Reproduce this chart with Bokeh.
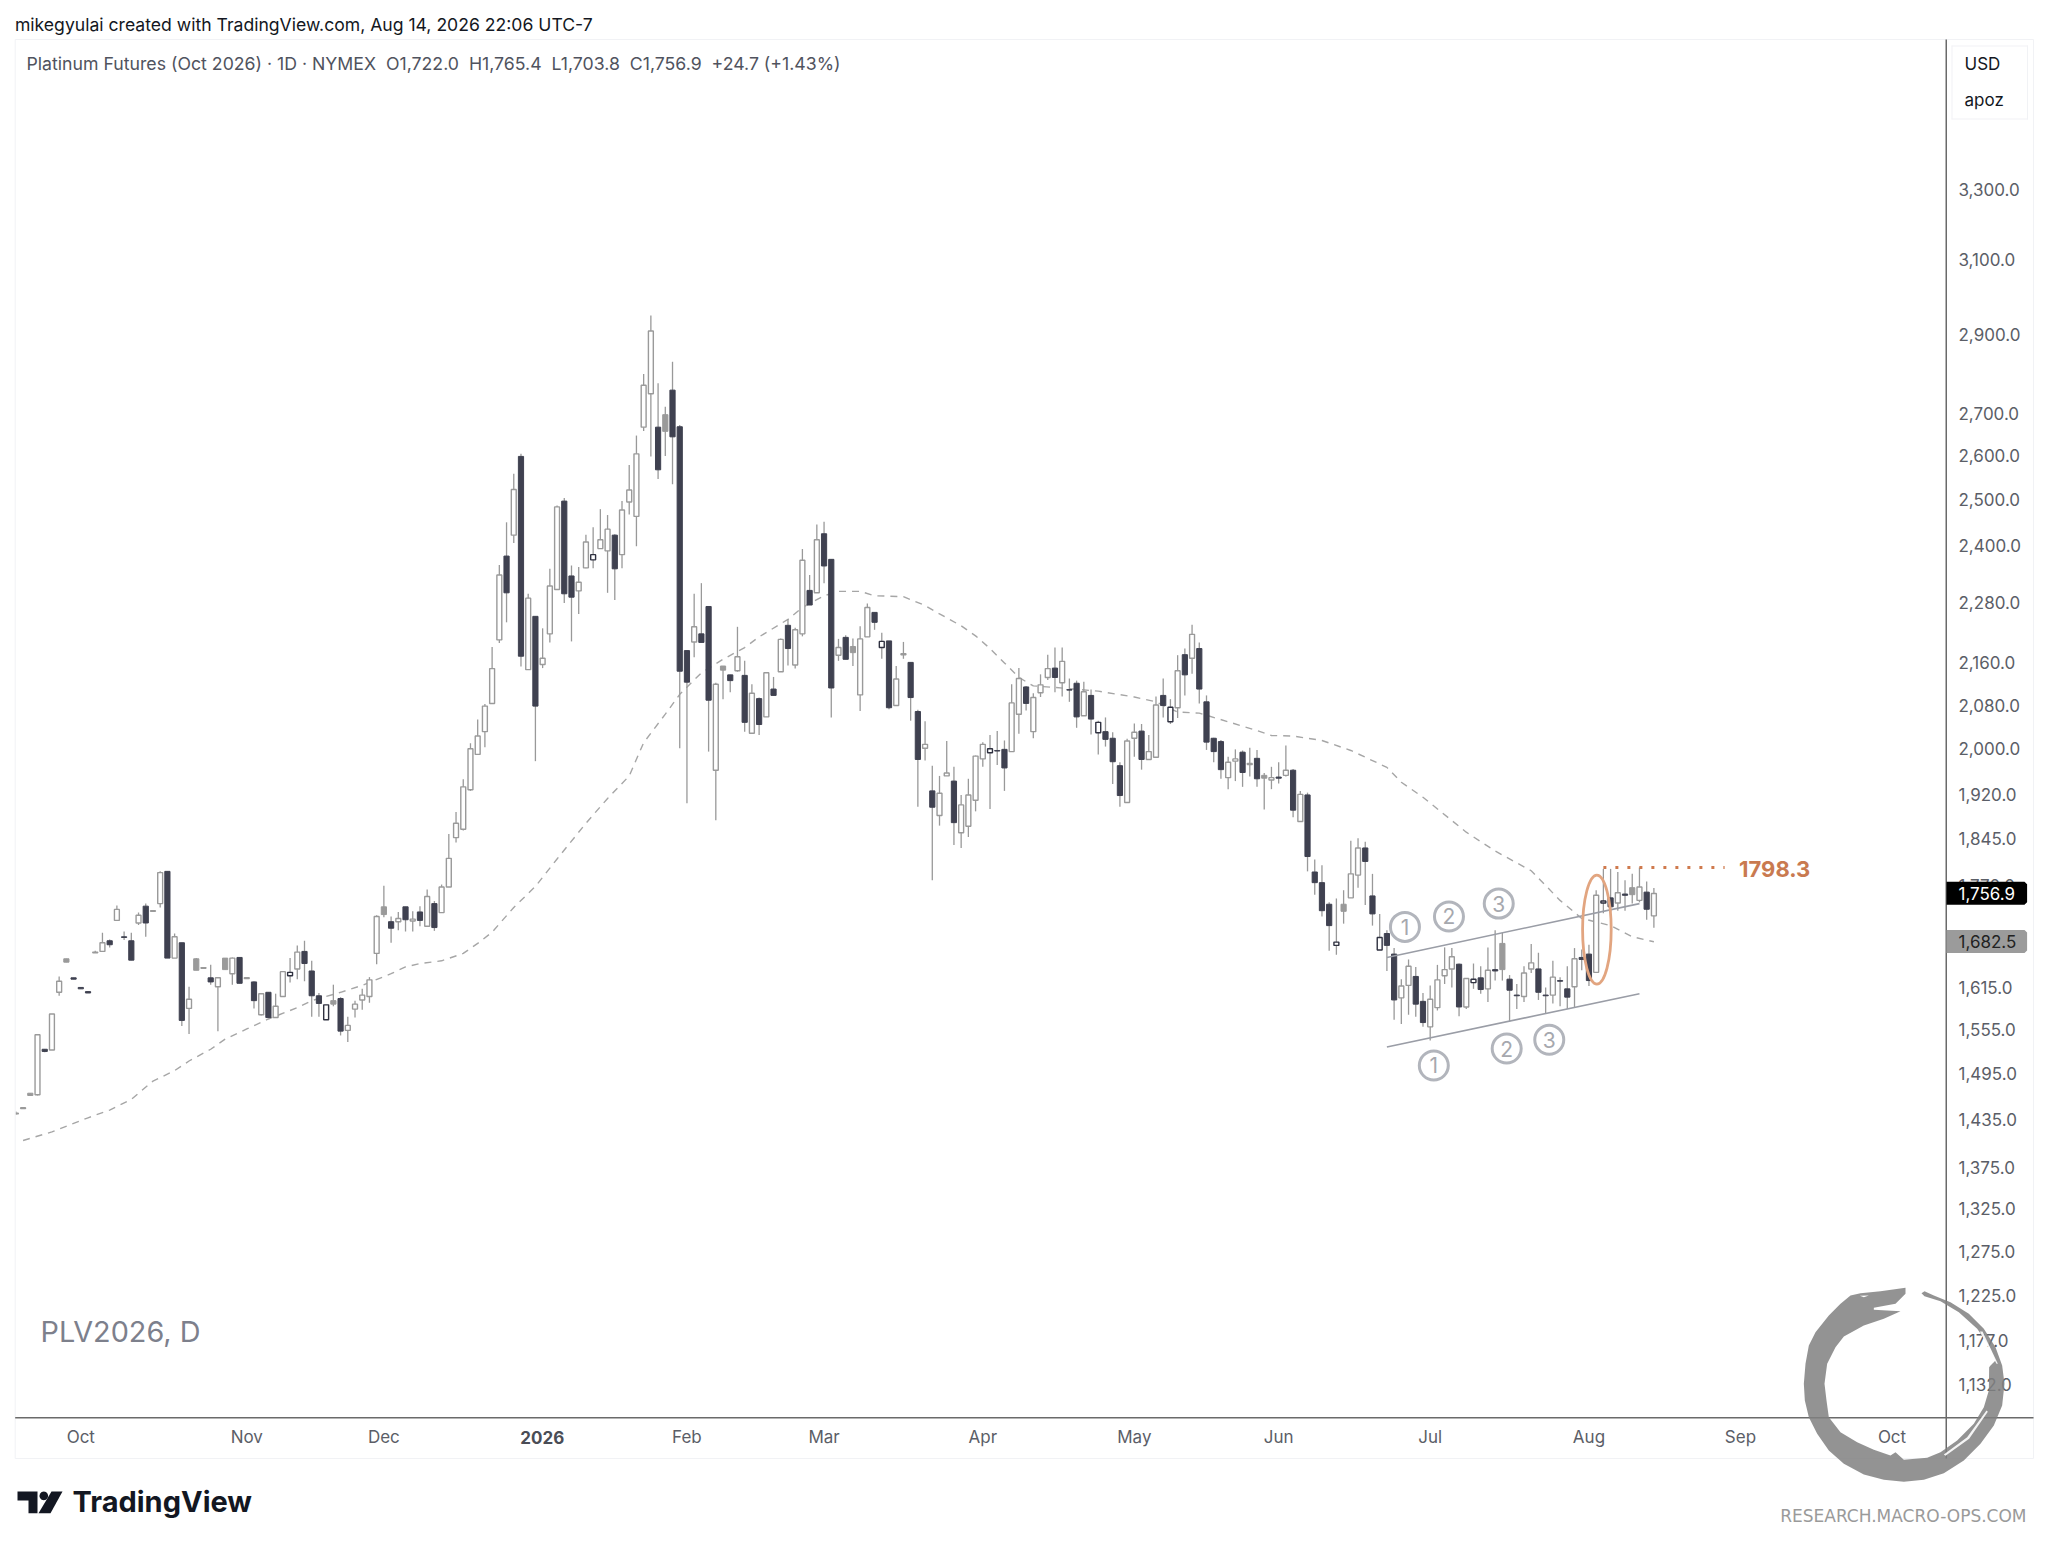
import math
import numpy as np
from bokeh.plotting import figure
from bokeh.layouts import column
from bokeh.core.properties import value
from bokeh.models import (Range1d, FixedTicker, NumeralTickFormatter, Label, ColumnDataSource)
from bokeh.embed import file_html
from bokeh.resources import INLINE

opens = [1442,1449,1469,1467,1528,1527,1608,1657,1629,1615,1609,1666,1668,1684,1715,1690,1684,1711,1737,1729,
1741,1792,1658,1681,1585,1657,1643,1629,1616,1658,1635,1659,1628,1623,1576,1608,1572,1602,1632,1642,
1668,1639,1603,1569,1596,1599,1554,1584,1597,1602,1665,1736,1713,1713,1736,1714,1728,1706,1741,1727,
1767,1847,1861,1928,1990,2031,2083,2205,2377,2422,2599,2147,2252,2157,2217,2307,2497,2335,2304,2352,
2369,2393,2388,2422,2380,2495,2463,2668,2749,2668,2698,2758,2669,2184,2201,2217,2272,1962,2154,2137,
2145,2136,2028,2092,2058,2110,2143,2234,2156,2217,2305,2300,2425,2370,2175,2210,2192,2099,2211,2260,
2190,2203,2079,2176,2161,2068,2001,1926,1884,1952,1943,1855,1866,1910,1982,1993,1997,1999,1995,2063,
2114,2031,2103,2132,2150,2122,2109,2121,2060,2098,2029,2031,2019,1970,1906,2019,2032,1981,1985,2098,
2049,2075,2176,2169,2188,2086,2019,2013,1949,1978,1994,1972,1983,1953,1945,1950,1953,1962,1874,1919,
1791,1774,1740,1677,1740,1750,1786,1830,1753,1670,1695,1664,1600,1618,1631,1595,1559,1586,1632,1642,
1649,1587,1622,1629,1613,1641,1680,1627,1604,1602,1642,1642,1604,1604,1625,1613,1616,1659,1664,1637,
1742,1750,1742,1756,1766,1746,1759,1722.0]
highs = [1445,1451,1469,1548,1528,1577,1631,1657,1629,1615,1609,1669,1696,1686,1738,1698,1696,1727,1741,1730,
1792,1792,1695,1681,1616,1658,1644,1648,1630,1658,1659,1659,1629,1624,1606,1608,1606,1638,1658,1677,
1684,1654,1607,1590,1619,1601,1573,1596,1613,1630,1723,1769,1721,1728,1736,1729,1737,1763,1745,1771,
1853,1890,1946,2010,2053,2082,2191,2358,2450,2559,2605,2298,2252,2228,2350,2487,2504,2357,2354,2423,
2439,2479,2466,2424,2497,2579,2648,2798,2949,2775,2717,2829,2673,2184,2298,2320,2272,2122,2154,2137,
2231,2164,2119,2094,2141,2133,2208,2246,2229,2392,2337,2445,2451,2370,2207,2214,2208,2232,2278,2260,
2219,2203,2154,2201,2161,2071,2050,1970,1952,2014,1968,1919,1947,1988,2012,2025,2032,2015,2119,2150,
2116,2102,2138,2176,2190,2190,2130,2126,2124,2109,2051,2057,2030,1976,2018,2046,2045,2025,2096,2130,
2091,2175,2188,2235,2200,2098,2020,2016,1986,1999,1997,2002,1998,1957,1968,1976,2006,1964,1926,1923,
1811,1802,1743,1749,1762,1842,1846,1840,1788,1725,1700,1673,1627,1656,1645,1607,1618,1648,1674,1673,
1650,1628,1650,1646,1674,1700,1696,1633,1620,1646,1679,1666,1615,1654,1630,1646,1673,1671,1678,1762,
1796,1796,1791,1778,1788,1798.3,1776,1765.4]
lows = [1441,1449,1466,1466,1524,1527,1603,1652,1627,1613,1607,1666,1667,1674,1715,1685,1655,1708,1690,1729,
1735,1658,1658,1560,1549,1640,1643,1619,1553,1641,1619,1621,1628,1585,1575,1572,1572,1602,1622,1627,
1624,1573,1573,1569,1588,1547,1538,1572,1583,1593,1649,1720,1681,1700,1698,1698,1706,1705,1699,1727,
1767,1839,1859,1926,1990,2003,2083,2199,2240,2405,2153,2147,1978,2150,2200,2306,2279,2202,2257,2351,
2351,2393,2300,2285,2351,2467,2398,2659,2599,2547,2600,2535,2001,1905,2171,2200,1995,1876,2091,2104,
2143,2031,2028,2025,2058,2098,2143,2155,2149,2212,2275,2300,2320,2057,2164,2167,2154,2069,2211,2225,
2168,2072,2079,2168,2051,1899,1979,1778,1867,1952,1835,1830,1848,1891,1968,1895,1971,1926,1995,2027,
2070,2019,2095,2127,2104,2096,2086,2038,2060,2026,1990,2004,1938,1899,1906,1986,1963,1981,1985,2057,
2045,2056,2098,2139,2083,1998,1976,1947,1929,1943,1933,1951,1933,1894,1929,1939,1951,1881,1874,1792,
1755,1721,1669,1663,1710,1750,1766,1739,1707,1670,1639,1569,1563,1576,1573,1559,1540,1582,1620,1615,
1574,1584,1613,1606,1594,1625,1625,1566,1584,1594,1636,1597,1578,1592,1588,1584,1587,1640,1617,1637,
1726,1728,1730,1730,1741,1743,1716,1703.8]
closes = [1443,1450,1466,1548,1525,1577,1624,1652,1627,1613,1607,1667,1681,1678,1732,1689,1655,1723,1711,1730,
1790,1658,1690,1568,1598,1640,1644,1623,1629,1641,1658,1621,1629,1596,1606,1572,1588,1638,1637,1667,
1650,1603,1592,1590,1591,1553,1561,1591,1604,1626,1721,1724,1703,1718,1716,1717,1715,1752,1704,1767,
1813,1871,1933,2000,2023,2078,2149,2337,2300,2523,2173,2289,2078,2169,2314,2484,2298,2291,2322,2407,
2380,2412,2435,2350,2477,2522,2605,2770,2908,2568,2658,2645,2144,2123,2231,2200,2089,2119,2146,2126,
2172,2048,2102,2044,2141,2098,2206,2188,2225,2368,2275,2412,2356,2112,2190,2167,2180,2207,2270,2240,
2202,2075,2129,2178,2094,1981,2008,1898,1922,1957,1872,1902,1919,1987,2008,2000,1996,1966,2084,2130,
2083,2094,2118,2149,2132,2163,2108,2058,2105,2054,2048,2017,1977,1918,2014,2030,1981,1995,2080,2079,
2076,2145,2137,2216,2110,2012,1995,1963,1976,1982,1958,1974,1947,1948,1949,1948,1962,1893,1920,1816,
1774,1730,1707,1682,1729,1788,1830,1808,1725,1689,1677,1597,1617,1646,1591,1565,1598,1626,1641,1660,
1587,1628,1627,1612,1640,1639,1641,1611,1603,1636,1651,1608,1603,1630,1624,1601,1657,1656,1625,1754,
1745,1736,1758,1754,1755,1767,1732.2,1756.9]

ma_index = [1,5,10,13,16,19,22,24,27,29,32,35,39,41,45,48,52,54,56,59,62,64,66,69,72,75,79,82,85,87,90,92,95,98,
            101,103,107,109,112,114,117,119,123,126,128,131,133,135,137,139,141,144,150,155,158,161,164,168,172,
            174,177,181,185,187,190,192,195,201,205,210,214,217,221,224,227]
ma_values = [1408,1419,1437,1447,1461,1485,1499,1512,1528,1542,1556,1570,1586,1596,1608,1618,1635,1645,1650,1654,
             1665,1680,1697,1735,1768,1812,1871,1913,1952,2011,2063,2100,2141,2167,2190,2211,2246,2270,2294,2303,
             2303,2294,2292,2274,2257,2233,2213,2188,2160,2132,2116,2113,2106,2095,2086,2067,2065,2049,2033,
             2024,2023,2015,1997,1985,1967,1941,1915,1856,1825,1793,1746,1718,1707,1690,1682.5]

price_ticks = [3300,3100,2900,2700,2600,2500,2400,2280,2160,2080,2000,1920,1845,1770,1685,1615,1555,1495,1435,1375,1325,1275,1225,1177,1132]
month_ticks = [9,32,51,93,112,134,155,175,196,218,239,260]
month_labels = ["Oct","Nov","Dec","Feb","Mar","Apr","May","Jun","Jul","Aug","Sep","Oct"]
year_tick = 73
year_label = "2026"

upper_x, upper_y = [190,225], [1659,1741]
lower_x, lower_y = [190,225], [1531,1606]
marks_x = [192.5,198.6,205.5,196.5,206.6,212.5]
marks_y = [1705,1721,1741,1506,1529,1541]
marks_t = ["1","2","3","1","2","3"]
level_x, level_y = [220,236.8], [1798.3,1798.3]
level_text = "1798.3"
ellipse_x, ellipse_y = 219.1, 1701
last_close = 1756.9
last_ma = 1682.5

DARK = "#3f4150"
GRAY = "#9a9a9a"
FONT = "Inter"
W, HH = 2040, 1540

idx = np.arange(len(closes))
O, H, L, C = map(lambda a: np.array(a, dtype=float), (opens, highs, lows, closes))
H = np.maximum(H, np.maximum(O, C))
L = np.minimum(L, np.minimum(O, C))
prev = np.r_[O[0], C[:-1]]
hollow = C >= O
up = C >= prev

p = figure(width=W, height=HH, y_axis_type="log", y_axis_location="right",
           x_range=Range1d(-0.05, 267.55), y_range=Range1d(1097.6, 3776),
           output_backend="svg", toolbar_location=None,
           min_border_left=15, min_border_right=W - 1946, min_border_top=39, min_border_bottom=HH - 1418)
p.frame_align = False
p.background_fill_color = "white"
p.border_fill_color = "white"
p.outline_line_color = None
p.grid.visible = False

p.yaxis.ticker = FixedTicker(ticks=price_ticks)
p.yaxis.formatter = NumeralTickFormatter(format="0,0.0")
p.yaxis.major_tick_line_color = None
p.yaxis.minor_tick_line_color = None
p.yaxis.axis_line_color = None
p.yaxis.major_label_text_font = FONT
p.yaxis.major_label_text_font_size = "17px"
p.yaxis.major_label_text_color = "#5b5e67"
p.yaxis.major_label_standoff = 6

p.xaxis.ticker = FixedTicker(ticks=month_ticks + [year_tick])
p.xaxis.major_label_overrides = {**{t: l for t, l in zip(month_ticks, month_labels)}, year_tick: ""}
p.xaxis.major_tick_line_color = None
p.xaxis.minor_tick_line_color = None
p.xaxis.axis_line_color = None
p.xaxis.major_label_text_font = FONT
p.xaxis.major_label_text_font_size = "17px"
p.xaxis.major_label_text_color = "#5b5e67"
p.xaxis.major_label_standoff = 2

# moving average
p.line(ma_index, ma_values, line_color="#a6a6a6", line_width=1.4, line_dash="7 6")

# candles
p.segment(idx, H, idx, L, line_color="#999999", line_width=1.3)
def bodies(mask, fill, line, w, lw):
    src = ColumnDataSource(dict(x=idx[mask], top=np.maximum(O, C)[mask], bottom=np.minimum(O, C)[mask]))
    p.vbar(x="x", top="top", bottom="bottom", width=w, source=src, fill_color=fill, line_color=line, line_width=lw)
bodies(hollow & up, "white", GRAY, 0.68, 1.4)
bodies(hollow & ~up, "white", "#2f3140", 0.68, 1.4)
bodies(~hollow & up, GRAY, GRAY, 0.72, 1)
bodies(~hollow & ~up, DARK, DARK, 0.72, 1)

# drawings
p.line(upper_x, upper_y, line_color="#9a9da6", line_width=1.6)
p.line(lower_x, lower_y, line_color="#9a9da6", line_width=1.6)
p.scatter(marks_x, marks_y, marker="circle", size=29, fill_color="white", fill_alpha=0,
          line_color="#b2b5bc", line_width=3)
p.text(marks_x, marks_y, text=marks_t, text_align="center", text_baseline="middle",
       text_font_size="21px", text_color="#a6a8ae", text_font=value(FONT))
p.ellipse([ellipse_x], [ellipse_y], width=28.6, height=109, width_units="screen", height_units="screen",
          fill_alpha=0, line_color="#e2a580", line_width=2.8)
p.line(level_x, level_y, line_color="#cf7a4e", line_width=3, line_dash="3 9")
p.add_layout(Label(x=level_x[1] + 2.0, y=level_y[0] * 0.9985, text=level_text, text_font=FONT, text_font_size="22px",
                   text_font_style="bold", text_color="#c97a50", text_baseline="middle", text_align="left"))

# page furniture on a transparent sheet laid over the chart, measured in page pixels
ov = figure(width=W, height=HH, x_range=Range1d(0, W), y_range=Range1d(HH, 0),
            x_axis_location=None, y_axis_location=None, output_backend="svg", toolbar_location=None,
            min_border=0, min_border_left=0, min_border_right=0, min_border_top=0, min_border_bottom=0)
ov.frame_align = False
ov.background_fill_alpha = 0
ov.border_fill_alpha = 0
ov.outline_line_color = None
ov.grid.visible = False
ov.styles = {"position": "absolute", "left": "0px", "top": "0px"}

def cpoly(xs, ys, fill, alpha=1.0):
    ov.patch(list(xs), list(ys), fill_color=fill, fill_alpha=alpha, line_color=None)

def clabel(x, y, text, size, color, align="left", font=FONT, style="normal"):
    ov.text([x], [y], text=[text], text_font=value(font), text_font_size=size, text_color=color,
            text_align=align, text_baseline="middle", text_font_style=style)

LINE = "#6a6a6a"
FAINT = "#f1f2f5"
# outer panel
cpoly([14.7, 2033, 2033, 14.7], [38.5, 38.5, 39.5, 39.5], FAINT)
cpoly([14.7, 2033, 2033, 14.7], [1457.5, 1457.5, 1458.5, 1458.5], FAINT)
cpoly([14.2, 15.2, 15.2, 14.2], [39, 39, 1458, 1458], FAINT)
cpoly([2032.5, 2033.5, 2033.5, 2032.5], [39, 39, 1458, 1458], FAINT)
# axes
cpoly([1945, 1946.5, 1946.5, 1945], [39, 39, 1458, 1458], LINE)
cpoly([14.7, 2033, 2033, 14.7], [1416.4, 1416.4, 1418, 1418], LINE)
# currency box
bx0, bx1, by0, by1 = 1951, 2027.5, 45, 119
cpoly([bx0, bx1, bx1, bx0], [by0, by0, by0 + 1, by0 + 1], FAINT)
cpoly([bx0, bx1, bx1, bx0], [by1 - 1, by1 - 1, by1, by1], FAINT)
cpoly([bx0, bx0 + 1, bx0 + 1, bx0], [by0, by0, by1, by1], FAINT)
cpoly([bx1 - 1, bx1, bx1, bx1 - 1], [by0, by0, by1, by1], FAINT)

clabel(14.4, 24, "mikegyulai created with TradingView.com, Aug 14, 2026 22:06 UTC-7", "17.6px", "#131722")
clabel(26, 63, "Platinum Futures (Oct 2026) \u00b7 1D \u00b7 NYMEX\u00a0\u00a0O1,722.0\u00a0\u00a0H1,765.4\u00a0\u00a0L1,703.8\u00a0\u00a0C1,756.9\u00a0\u00a0+24.7 (+1.43%)", "17.7px", "#50535e")
clabel(1964, 63.3, "USD", "17px", "#131722")
clabel(1964, 99, "apoz", "17px", "#131722")
clabel(40, 1330.5, "PLV2026, D", "28.8px", "#7d808c")
clabel(72, 1501, "TradingView", "29px", "#131722", style="bold")
clabel(2026, 1515, "RESEARCH.MACRO-OPS.COM", "17px", "#9a9a9a", align="right", font="DejaVu Sans")
clabel(15.05 + 7.216 * year_tick, 1437, year_label, "17px", "#4a4d56", align="center", style="bold")

# price tags
def tag(price, text, fill, color):
    y = 189.3 + 1116 * math.log(3300 / price)
    cpoly([1946, 2024, 2026.6, 2026.6, 2024, 1946], [y - 11.5, y - 11.5, y - 9, y + 9, y + 11.5, y + 11.5], fill)
    clabel(1958, y, text, "17px", color)
tag(last_close, f"{last_close:,.1f}", "#000000", "#ffffff")
tag(last_ma, f"{last_ma:,.1f}", "#9b9b9b", "#222222")

# TradingView mark
cpoly([17, 37, 37, 28, 28, 17], [1491, 1491, 1512.7, 1512.7, 1500, 1500], "#131722")
cpoly([51, 62, 50, 38], [1491, 1491, 1512.7, 1512.7], "#131722")
cpoly([43.3 + 4.4 * math.cos(a / 12 * 6.2832) for a in range(12)], [1495.4 + 4.4 * math.sin(a / 12 * 6.2832) for a in range(12)], "#131722")

# logo ring
ring = [(615,112),(540,122),(480,128),(450,135),(420,160),(385,195),(345,245),(325,285),(315,340),(310,400),(313,450),(325,500),
        (350,550),(385,600),(430,640),(490,672),(550,688),(610,694),(670,688),(730,668),(790,630),(840,580),(880,525),(905,465),
        (912,400),(905,345),(885,290),(850,235),(805,190),(750,155),(700,135),(672,122),(663,128),(672,137),(720,152),(775,185),
        (830,235),(865,285),(885,330),(870,345),(866,350),(865,420),(850,470),(820,520),(770,570),(720,605),(680,622),(610,628),
        (585,605),(570,615),(520,598),(470,575),(420,545),(385,500),(378,450),(372,400),(380,340),(405,290),(430,258),(490,225),
        (550,205),(600,182),(520,178),(520,172),(585,160),(615,130)]
cpoly([1700 + a / 3 for a, b in ring], [1250 + b / 3 for a, b in ring], "#808080", 0.85)
cpoly([1700 + a / 3 for a in (478,505,490)], [1250 + b / 3 for b in (136,135,140)], "#ffffff")
cpoly([1700 + a / 3 for a in (838,846,892,888)], [1250 + b / 3 for b in (243,243,340,340)], "#ffffff", 0.9)
cpoly([1700 + a / 3 for a in (730,800,858,862,806,735)], [1250 + b / 3 for b in (612,560,480,484,565,616)], "#ffffff", 0.9)

open("out.html", "w").write(file_html(column(p, ov), INLINE))
